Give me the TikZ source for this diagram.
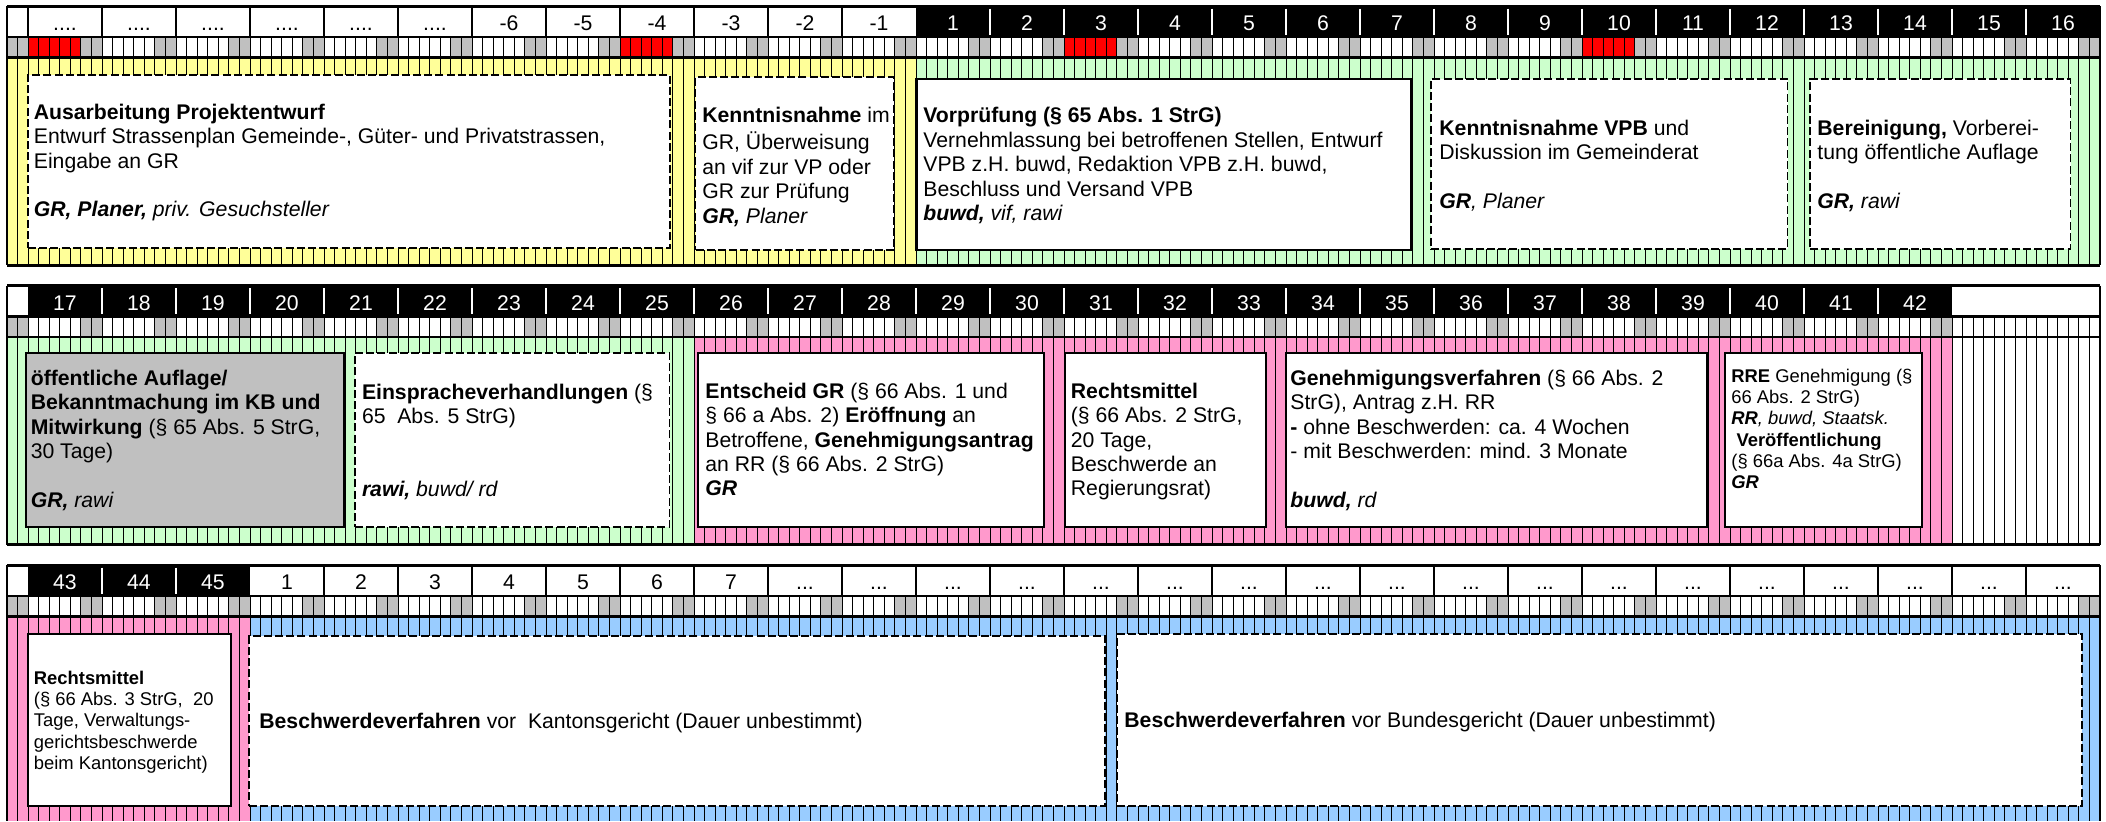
\documentclass[tikz,border=0pt]{standalone}
\usepackage{fontspec}
\setmainfont{Liberation Sans}
\usetikzlibrary{fit}
\definecolor{cyel}{HTML}{FFFF99}
\definecolor{cgrn}{HTML}{CCFFCC}
\definecolor{cpnk}{HTML}{FF99CC}
\definecolor{cblu}{HTML}{99CCFF}
\definecolor{cgry}{HTML}{C0C0C0}
\definecolor{cred}{HTML}{FF0000}
\tikzset{
  dbox/.style={draw=black, fill=white, line width=0.85pt, dash pattern=on 4pt off 1.6pt, inner sep=0pt},
  sbox/.style={draw=black, fill=white, line width=1.15pt, inner sep=0pt},
  gbox/.style={draw=black, fill=cgry, line width=1.15pt, inner sep=0pt},
  txt/.style={anchor=north west, inner sep=0pt, align=left, font=\fontsize{10.6}{12.2}\selectfont},
  stxt/.style={anchor=north west, inner sep=0pt, align=left, font=\fontsize{9.2}{10.6}\selectfont},
  num/.style={anchor=base, inner sep=0pt, font=\fontsize{10.6}{12.2}\selectfont},
  numw/.style={num, text=white},
  dayline/.style={line width=0.5pt},
  bardiv/.style={line width=1pt},
  wdiv/.style={white, line width=0.65pt},
}
\newcommand\RowBase[2]{%
  \fill[white] (6.86,#1+31) rectangle (2100,#1+51.5);
  \fill[cgry] (6.86,#1+31) rectangle (28,#1+51.5);
  \foreach \w in {0,...,#2} {
    \fill[cgry] ({28+74*\w+5*10.5714},#1+31) rectangle ({28+74*(\w+1)},#1+51.5);
  }
}
\newcommand\DayLines[2]{%
  \draw[dayline] \foreach \k in {1,...,197} {({6.857+10.5714*\k},#1+31) -- ({6.857+10.5714*\k},#2)};
}
\newcommand\Frame[2]{%
  \draw[line width=1.5pt] (6.86,#1) -- (2100,#1);
  \draw[line width=1.2pt] (6.86,#1+31) -- (2100,#1+31);
  \draw[line width=1.2pt] (6.86,#1+51.5) -- (2100,#1+51.5);
  \draw[line width=1pt] (6.86,#1) -- (6.86,#2);
  \draw[line width=1pt] (2100,#1) -- (2100,#2);
}
\begin{document}
\begin{tikzpicture}[x=0.5pt,y=-0.5pt]
\useasboundingbox (0,0) rectangle (2106,821);
\fill[white] (0,0) rectangle (2106,821);

% ================= Row 1 =================
\def\Ya{6}
\fill[cyel] (6.86,\Ya+51.5) rectangle (916,\Ya+259);
\fill[cgrn] (916,\Ya+51.5) rectangle (2100,\Ya+259);
\RowBase{\Ya}{27}
\foreach \w in {0,8,14,21} \fill[cred] ({28+74*\w},\Ya+31) rectangle ({28+74*\w+5*10.5714},\Ya+51.5);
\DayLines{\Ya}{\Ya+259}
\fill[white] (6.86,\Ya) rectangle (916,\Ya+31);
\fill[black] (916,\Ya) rectangle (2100,\Ya+31);
\foreach \w in {0,...,11} \draw[bardiv] ({28+74*\w},\Ya) -- ({28+74*\w},\Ya+31);
\foreach \w in {13,...,27} \draw[wdiv] ({28+74*\w},\Ya+2.5) -- ({28+74*\w},\Ya+28.5);
\Frame{\Ya}{\Ya+259}
\draw[line width=1.5pt] (6.86,\Ya+259) -- (2100,\Ya+259);
\foreach \w in {0,...,5} \node[num] (r1w\w) at ({65+74*\w},\Ya+24.8) {....};
\foreach \l in {-6,...,-1} {\pgfmathtruncatemacro\w{\l+12}\node[num] (r1w\w) at ({65+74*\w},\Ya+24.8) {\l};}
\foreach \l in {1,...,16} {\pgfmathtruncatemacro\w{\l+11}\node[numw] (r1w\w) at ({65+74*\w},\Ya+24.8) {\l};}

\node[dbox, fit={(28,75) (670,248)}] (b11) {};
\node[dbox, fit={(695.5,77) (894,250)}] (b12) {};
\node[sbox, fit={(916.5,79) (1411,250)}] (b13) {};
\node[dbox, fit={(1431,79) (1787.5,249)}] (b14) {};
\node[dbox, fit={(1810,79) (2070.5,249)}] (b15) {};

\node[txt] (t11) at (33.5,101.9) {\strut\textbf{Ausarbeitung Projektentwurf}\\ Entwurf Strassenplan Gemeinde-, Güter- und Privatstrassen,\\ Eingabe an GR\\ ~\\ \textbf{\textit{GR, Planer,}} \textit{priv. Gesuchsteller}};
\node[txt] (t12) at (702,105.4) {\strut\textbf{Kenntnisnahme} im\\ GR, Überweisung\\ an vif zur VP oder\\ GR zur Prüfung\\ \textbf{\textit{GR,}} \textit{Planer}};
\node[txt] (t13) at (923,105.4) {\strut\textbf{Vorprüfung (§ 65 Abs. 1 StrG)}\\ Vernehmlassung bei betroffenen Stellen, Entwurf\\ VPB z.H. buwd, Redaktion VPB z.H. buwd,\\ Beschluss und Versand VPB\\ \textbf{\textit{buwd,}} \textit{vif, rawi}};
\node[txt] (t14) at (1439,117.9) {\strut\textbf{Kenntnisnahme VPB} und\\ Diskussion im Gemeinderat\\ ~\\ \textbf{\textit{GR}}\textit{, Planer}};
\node[txt] (t15) at (1817,117.9) {\strut\textbf{Bereinigung,} Vorberei-\\ tung öffentliche Auflage\\ ~\\ \textbf{\textit{GR,}} \textit{rawi}};

% ================= Row 2 =================
\def\Yb{285.5}
\fill[cgrn] (6.86,\Yb+51.5) rectangle (694,\Yb+259);
\fill[cpnk] (694,\Yb+51.5) rectangle (1952,\Yb+259);
\RowBase{\Yb}{25}
\DayLines{\Yb}{\Yb+259}
\fill[white] (6.86,\Yb) rectangle (2100,\Yb+31);
\fill[black] (28,\Yb) rectangle (1952,\Yb+31);
\foreach \w in {1,...,25} \draw[wdiv] ({28+74*\w},\Yb+2.5) -- ({28+74*\w},\Yb+28.5);
\Frame{\Yb}{\Yb+259}
\draw[line width=1.5pt] (6.86,\Yb+259) -- (2100,\Yb+259);
\foreach \l in {17,...,42} {\pgfmathtruncatemacro\w{\l-17}\node[numw] (r2w\w) at ({65+74*\w},\Yb+24.8) {\l};}

\node[gbox, fit={(26,353) (344.6,527)}] (b21) {};
\node[dbox, fit={(355,353) (669.6,527)}] (b22) {};
\node[sbox, fit={(698,353) (1044,527)}] (b23) {};
\node[sbox, fit={(1065,353) (1266,527)}] (b24) {};
\node[sbox, fit={(1286,353) (1707,527)}] (b25) {};
\node[sbox, fit={(1725,353) (1922,527)}] (b26) {};

\node[txt] (t21) at (30.4,367.9) {\strut\textbf{öffentliche Auflage/}\\ \textbf{Bekanntmachung im KB und}\\ \textbf{Mitwirkung} (§ 65 Abs. 5 StrG,\\ 30 Tage)\\ ~\\ \textbf{\textit{GR,}} \textit{rawi}};
\node[txt] (t22) at (361.6,381.9) {\strut\textbf{Einspracheverhandlungen} (§\\ 65\ \ Abs. 5 StrG)\\ ~\\ ~\\ \textbf{\textit{rawi,}} \textit{buwd/ rd}};
\node[txt] (t23) at (705,380.9) {\strut\textbf{Entscheid GR} (§ 66 Abs. 1 und\\ § 66 a Abs. 2) \textbf{Eröffnung} an\\ Betroffene, \textbf{Genehmigungsantrag}\\ an RR (§ 66 Abs. 2 StrG)\\ \textbf{\textit{GR}}};
\node[txt] (t24) at (1070.5,380.9) {\strut\textbf{Rechtsmittel}\\ (§ 66 Abs. 2 StrG,\\ 20 Tage,\\ Beschwerde an\\ Regierungsrat)};
\node[txt] (t25) at (1290,367.9) {\strut\textbf{Genehmigungsverfahren} (§ 66 Abs. 2\\ StrG), Antrag z.H. RR\\ \textbf{-} ohne Beschwerden: ca. 4 Wochen\\ - mit Beschwerden: mind. 3 Monate\\ ~\\ \textbf{\textit{buwd,}} \textit{rd}};
\node[stxt] (t26) at (1731,367.2) {\strut\textbf{RRE} Genehmigung (§\\ 66 Abs. 2 StrG)\\ \textbf{\textit{RR}}\textit{, buwd, Staatsk.}\\ \ \textbf{Veröffentlichung}\\ (§ 66a Abs. 4a StrG)\\ \textbf{\textit{GR}}};

% ================= Row 3 =================
\def\Yc{565}
\fill[cpnk] (6.86,\Yc+51.5) rectangle (250,821);
\fill[cblu] (250,\Yc+51.5) rectangle (2100,821);
\RowBase{\Yc}{27}
\DayLines{\Yc}{821}
\fill[white] (6.86,\Yc) rectangle (2100,\Yc+31);
\fill[black] (28,\Yc) rectangle (250,\Yc+31);
\foreach \w in {1,2} \draw[wdiv] ({28+74*\w},\Yc+2.5) -- ({28+74*\w},\Yc+28.5);
\foreach \w in {4,...,27} \draw[bardiv] ({28+74*\w},\Yc) -- ({28+74*\w},\Yc+31);
\Frame{\Yc}{821}
\foreach \l in {43,44,45} {\pgfmathtruncatemacro\w{\l-43}\node[numw] (r3w\w) at ({65+74*\w},\Yc+24.8) {\l};}
\foreach \l in {1,...,7} {\pgfmathtruncatemacro\w{\l+2}\node[num] (r3w\w) at ({65+74*\w},\Yc+24.8) {\l};}
\foreach \w in {10,...,27} \node[num] (r3w\w) at ({65+74*\w},\Yc+24.8) {...};

\node[sbox, fit={(28,634) (231,806)}] (b31) {};
\node[dbox, fit={(249,636) (1105,806)}] (b32) {};
\node[dbox, fit={(1117,634) (2082,806)}] (b33) {};

\node[stxt] (t31) at (33.5,669.2) {\strut\textbf{Rechtsmittel}\\ (§ 66 Abs. 3 StrG,\ \ 20\\ Tage, Verwaltungs-\\ gerichtsbeschwerde\\ beim Kantonsgericht)};
\node[txt] (t32) at (259,710.9) {\strut\textbf{Beschwerdeverfahren} vor\ \ Kantonsgericht (Dauer unbestimmt)};
\node[txt] (t33) at (1124,709.9) {\strut\textbf{Beschwerdeverfahren} vor Bundesgericht (Dauer unbestimmt)};
\end{tikzpicture}
\end{document}
